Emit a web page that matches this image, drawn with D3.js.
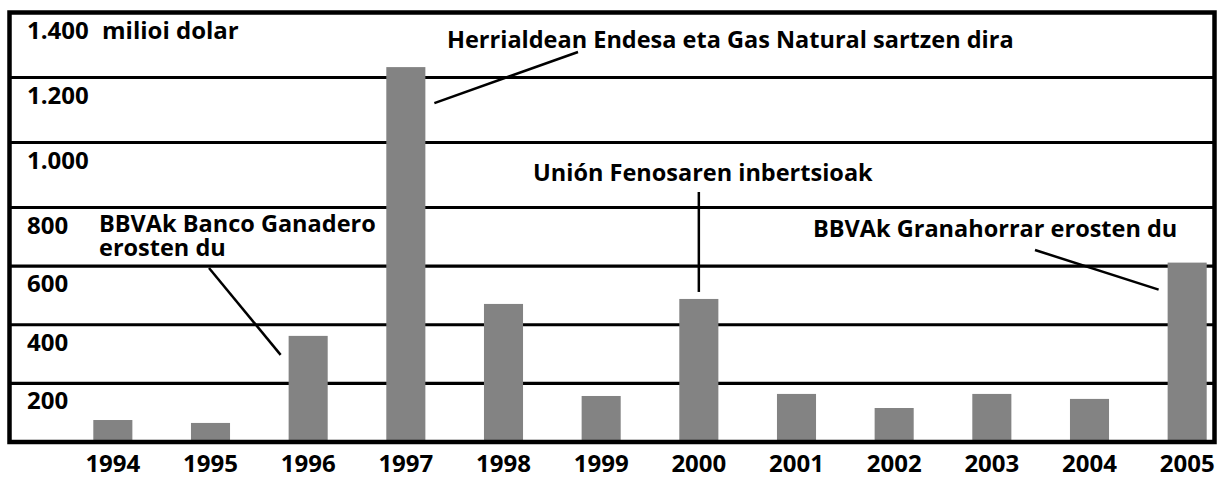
<!DOCTYPE html>
<html>
<head>
<meta charset="utf-8">
<script src="https://cdn.jsdelivr.net/npm/d3@7"></script>
<style>
  body { margin: 0; background: #fff; }
  text { font-family: "Open Sans", sans-serif; font-weight: 700; fill: #000; }
</style>
</head>
<body>
<div id="chart"></div>
<script>
const years = ['1994', '1995', '1996', '1997', '1998', '1999', '2000', '2001', '2002', '2003', '2004', '2005'];
const investment = [75, 65, 362, 1232, 471, 157, 488, 164, 116, 164, 147, 612];
const yTicks = [200, 400, 600, 800, 1000, 1200, 1400];
const unitLabel = 'milioi dolar';

const W = 1218, H = 478;
const BOX = {LEFT: 9.5, TOP: 12.5, RIGHT: 1214.5, BOTTOM: 442};

const svg = d3.select('#chart')
  .append('svg')
    .attr('width', W)
    .attr('height', H);

// the original axis is a bit stretched at the top, so a two-piece linear scale
const y = d3.scaleLinear()
  .domain([0, 800, 1400])
  .range([BOX.BOTTOM, 207.5, BOX.TOP]);

const x = d3.scaleBand()
  .domain(years)
  .range([64, 1236])
  .paddingInner(0.6)
  .paddingOuter(0.3);

const fmt = d3.formatLocale({decimal: ',', thousands: '.', grouping: [3], currency: ['', '']}).format(',d');

// gridlines
svg.append('g')
  .selectAll('line')
  .data(yTicks.slice(0, -1))
  .join('line')
    .attr('x1', BOX.LEFT)
    .attr('x2', BOX.RIGHT)
    .attr('y1', d => y(d))
    .attr('y2', d => y(d))
    .attr('stroke', '#000')
    .attr('stroke-width', 3.2);

// bars
svg.append('g')
  .selectAll('rect')
  .data(investment)
  .join('rect')
    .attr('x', (d, i) => x(years[i]))
    .attr('y', d => y(d))
    .attr('width', x.bandwidth())
    .attr('height', d => y(0) - y(d))
    .attr('fill', '#838383');

// frame
svg.append('rect')
  .attr('x', BOX.LEFT)
  .attr('y', BOX.TOP)
  .attr('width', BOX.RIGHT - BOX.LEFT)
  .attr('height', BOX.BOTTOM - BOX.TOP)
  .attr('fill', 'none')
  .attr('stroke', '#000')
  .attr('stroke-width', 4.5);

// y labels sit just under their line
svg.append('g')
  .selectAll('text')
  .data(yTicks)
  .join('text')
    .attr('x', 27)
    .attr('y', d => y(d) + 26)
    .attr('font-size', 24)
    .text(d => fmt(d));

svg.append('text')
  .attr('x', 102)
  .attr('y', y(1400) + 26)
  .attr('font-size', 24)
  .text(unitLabel);

// x labels
svg.append('g')
  .selectAll('text')
  .data(years)
  .join('text')
    .attr('x', d => x(d) + x.bandwidth() / 2)
    .attr('y', 472)
    .attr('text-anchor', 'middle')
    .attr('font-size', 24)
    .text(d => d);

// annotations
const bw = x.bandwidth();
const val = yr => investment[years.indexOf(yr)];
const notes = [
  {lines: ['Herrialdean Endesa eta Gas Natural sartzen dira'], tx: 447, ty: 48,
   from: [578, 52], to: [x('1997') + bw + 9, y(val('1997')) + 36]},
  {lines: ['Unión Fenosaren inbertsioak'], tx: 533, ty: 181,
   from: [x('2000') + bw / 2, 192], to: [x('2000') + bw / 2, y(val('2000')) - 7]},
  {lines: ['BBVAk Banco Ganadero', 'erosten du'], tx: 99, ty: 232,
   from: [209, 268], to: [x('1996') - 8, y(val('1996')) + 19]},
  {lines: ['BBVAk Granahorrar erosten du'], tx: 813, ty: 237,
   from: [1035, 250], to: [x('2005') - 9, y(val('2005')) + 27]}
];

const ann = svg.append('g');
notes.forEach(n => {
  ann.append('line')
    .attr('x1', n.from[0]).attr('y1', n.from[1])
    .attr('x2', n.to[0]).attr('y2', n.to[1])
    .attr('stroke', '#000')
    .attr('stroke-width', 2.5);
  n.lines.forEach((l, i) => {
    ann.append('text')
      .attr('x', n.tx)
      .attr('y', n.ty + i * 24)
      .attr('font-size', 23.5)
      .text(l);
  });
});
</script>
</body>
</html>
